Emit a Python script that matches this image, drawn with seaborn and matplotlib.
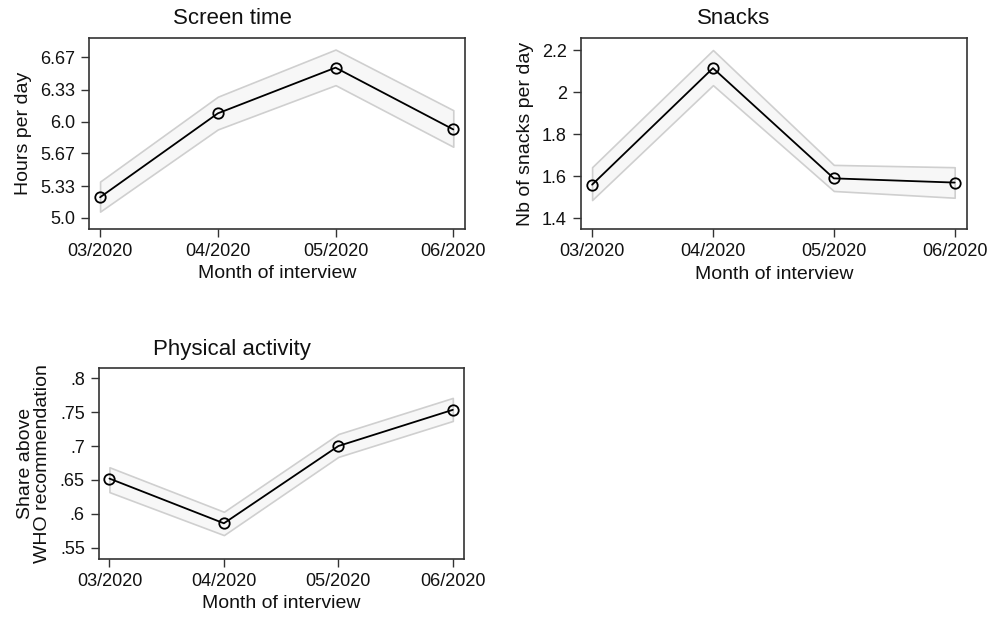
import numpy as np
import pandas as pd
import matplotlib
matplotlib.use("Agg")
import matplotlib.pyplot as plt
import seaborn as sns

# =====================================================
# Data
# =====================================================

months = ["03/2020", "04/2020", "05/2020", "06/2020"]

screen_mean = [5.215, 6.087, 6.562, 5.92]
screen_lo = [5.066, 5.92, 6.38, 5.74]
screen_hi = [5.378, 6.26, 6.75, 6.12]
screen_ticks = [5.0, 5.33, 5.67, 6.0, 6.33, 6.67]
screen_ticklabels = ["5.0", "5.33", "5.67", "6.0", "6.33", "6.67"]

snack_mean = [1.56, 2.114, 1.59, 1.57]
snack_lo = [1.487, 2.033, 1.53, 1.498]
snack_hi = [1.643, 2.2, 1.654, 1.643]
snack_ticks = [1.4, 1.6, 1.8, 2.0, 2.2]
snack_ticklabels = ["1.4", "1.6", "1.8", "2", "2.2"]

pa_mean = [0.652, 0.586, 0.700, 0.7534]
pa_lo = [0.632, 0.5686, 0.684, 0.737]
pa_hi = [0.6687, 0.603, 0.7177, 0.771]
pa_ticks = [0.55, 0.6, 0.65, 0.7, 0.75, 0.8]
pa_ticklabels = [".55", ".6", ".65", ".7", ".75", ".8"]

# =====================================================
# Style
# =====================================================

sns.set_style("ticks")
plt.rcParams["font.family"] = ["Liberation Sans", "DejaVu Sans"]
plt.rcParams["text.color"] = "#111111"
plt.rcParams["axes.labelcolor"] = "#111111"
plt.rcParams["xtick.labelcolor"] = "#111111"
plt.rcParams["ytick.labelcolor"] = "#111111"

fig = plt.figure(figsize=(9.88, 6.17), dpi=100)

ax1 = fig.add_axes([0.0901, 0.6288, 0.3806, 0.3096])
ax2 = fig.add_axes([0.5878, 0.6284, 0.3907, 0.3096])
ax3 = fig.add_axes([0.0999, 0.0945, 0.3700, 0.3086])


def panel(ax, mean, lo, hi, ylim, ticks, ticklabels, ylabel):
    x = np.arange(len(months))
    df = pd.DataFrame({"x": x, "y": mean})

    ax.fill_between(
        x, lo, hi,
        facecolor="#f7f7f7",
        edgecolor="#cfcfcf",
        linewidth=1.2,
        zorder=1
    )

    sns.lineplot(
        data=df, x="x", y="y", ax=ax,
        color="black", linewidth=1.3,
        marker="o", markersize=7.5,
        markerfacecolor="none",
        markeredgecolor="black",
        markeredgewidth=1.3,
        zorder=3
    )

    ax.set_xlim(-0.094, 3.1)
    ax.set_ylim(*ylim)
    ax.set_xticks(x)
    ax.set_xticklabels(months, fontsize=13)
    ax.set_yticks(ticks)
    ax.set_yticklabels(ticklabels, fontsize=13)
    ax.set_xlabel("Month of interview", fontsize=14, labelpad=4)
    ax.set_ylabel(ylabel, fontsize=14, labelpad=6)
    ax.tick_params(direction="out", length=6, width=1.0,
                   color="#333333", pad=4)

    for s in ax.spines.values():
        s.set_visible(True)
        s.set_color("#333333")
        s.set_linewidth(1.2)


panel(ax1, screen_mean, screen_lo, screen_hi, (4.885, 6.87),
      screen_ticks, screen_ticklabels, "Hours per day")
panel(ax2, snack_mean, snack_lo, snack_hi, (1.348, 2.256),
      snack_ticks, snack_ticklabels, "Nb of snacks per day")
panel(ax3, pa_mean, pa_lo, pa_hi, (0.5338, 0.8147),
      pa_ticks, pa_ticklabels, "Share above\nWHO recommendation")

ax3.yaxis.label.set_linespacing(1.0)

# titles (centred on graph region, like Stata)
fig.text(232 / 988, 1 - 19 / 617, "Screen time", fontsize=16,
         ha="center", va="center")
fig.text(734 / 988, 1 - 19 / 617, "Snacks", fontsize=16,
         ha="center", va="center")
fig.text(232 / 988, 1 - 350 / 617, "Physical activity", fontsize=16,
         ha="center", va="center")

fig.savefig("out.png", dpi=100)
